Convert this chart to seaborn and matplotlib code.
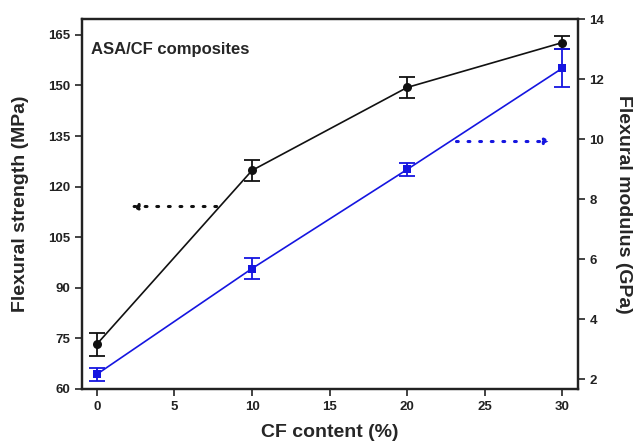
import numpy as np
import pandas as pd
import matplotlib
matplotlib.use("Agg")
import matplotlib.pyplot as plt
import seaborn as sns

# data
cf_content = [0, 10, 20, 30]
strength = [73.3, 124.8, 149.4, 162.7]
strength_err = [3.4, 3.1, 3.0, 2.0]
modulus = [2.17, 5.69, 8.99, 12.36]
modulus_err = [0.21, 0.34, 0.23, 0.63]

sns.set_style("ticks")
plt.rcParams['font.family'] = ['Liberation Sans', 'DejaVu Sans']
plt.rcParams['font.weight'] = 'bold'

df = pd.DataFrame({"CF": cf_content, "strength": strength, "modulus": modulus})

fig = plt.figure(figsize=(6.37, 4.42), dpi=100)
ax = fig.add_axes([0.129, 0.120, 0.778, 0.837])
ax2 = ax.twinx()

black = "#111111"
blue = "#1515e0"

# flexural strength (left axis)
sns.lineplot(data=df, x="CF", y="strength", ax=ax, color=black, lw=1.2,
             marker="o", markersize=6.5, markeredgewidth=0)
ax.errorbar(cf_content, strength, yerr=strength_err, fmt="none", ecolor=black,
            elinewidth=1.3, capsize=6, capthick=1.3)

# flexural modulus (right axis)
sns.lineplot(data=df, x="CF", y="modulus", ax=ax2, color=blue, lw=1.2,
             marker="s", markersize=5.5, markeredgewidth=0)
ax2.errorbar(cf_content, modulus, yerr=modulus_err, fmt="none", ecolor=blue,
             elinewidth=1.3, capsize=6, capthick=1.3)

# direction arrows
ax.annotate("", xy=(2.0, 114.1), xytext=(7.9, 114.1),
            arrowprops=dict(arrowstyle="-|>", color=black, lw=2.2,
                            linestyle=(0, (0.6, 3.2)), mutation_scale=9))
ax2.annotate("", xy=(29.5, 9.92), xytext=(23.0, 9.92),
             arrowprops=dict(arrowstyle="-|>", color=blue, lw=2.2,
                             linestyle=(0, (0.6, 3.2)), mutation_scale=9))

ax.text(-0.35, 160.6, "ASA/CF composites", fontsize=12, fontweight="bold",
        va="center", ha="left")

ax.set_xlim(-0.95, 31.0)
ax.set_ylim(60, 169.7)
ax2.set_ylim(1.68, 14)
ax.set_xticks([0, 5, 10, 15, 20, 25, 30])
ax.set_yticks([60, 75, 90, 105, 120, 135, 150, 165])
ax2.set_yticks([2, 4, 6, 8, 10, 12, 14])

ax.set_xlabel("CF content (%)", fontsize=14, fontweight="bold", labelpad=8)
ax.set_ylabel("Flexural strength (MPa)", fontsize=14, fontweight="bold", labelpad=14)
ax2.set_ylabel("Flexural modulus (GPa)", fontsize=14, fontweight="bold",
               rotation=270, labelpad=20)

for a in (ax, ax2):
    for s in a.spines.values():
        s.set_linewidth(1.6)
        s.set_color("#222222")
    a.tick_params(labelsize=9.5, width=1.2, length=5, direction="out", colors="#222222")
ax.tick_params(top=False, right=False)
ax2.tick_params(left=False)
for lab in ax.get_xticklabels() + ax.get_yticklabels() + ax2.get_yticklabels():
    lab.set_fontweight("bold")

fig.savefig("out.png", dpi=100)
